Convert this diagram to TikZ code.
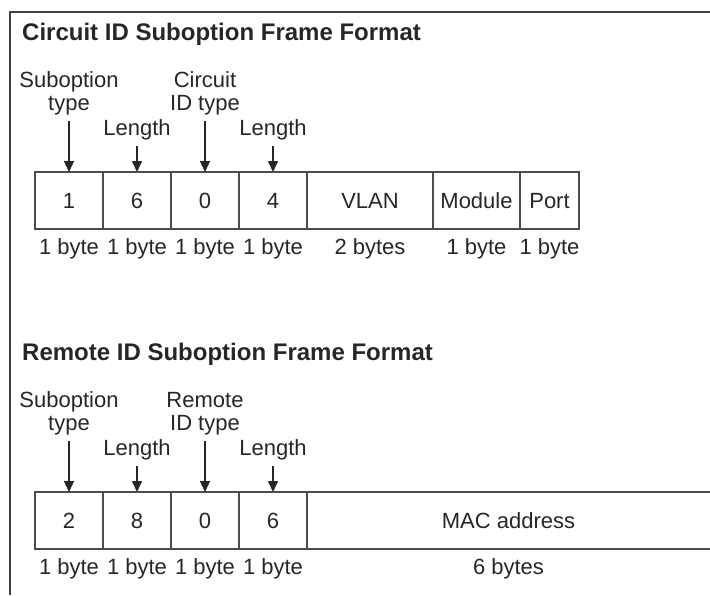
\documentclass[tikz,border=0pt]{standalone}
\usepackage{fontspec}
\setmainfont{Liberation Sans}
\usetikzlibrary{positioning,arrows.meta}

\tikzset{
  field/.style={draw=black!70, line width=1.2pt, outer sep=0pt, inner sep=0pt,
    minimum height=57pt, text height=16pt, text depth=0pt,
    font=\fontsize{22}{23}\selectfont, text=black!85},
  edge/.style={draw=black!70, line width=1.2pt},
  size/.style={inner sep=0pt, text height=16pt, text depth=5pt,
    font=\fontsize{22}{23}\selectfont, text=black!85},
  lbl/.style={inner sep=0pt, align=center, font=\fontsize{22}{23}\selectfont, text=black!85},
  ptr/.style={-{Triangle[length=11pt,width=10pt]}, line width=1.4pt, black!85, shorten <=5.5pt},
  heading/.style={inner sep=0pt, anchor=base west,
    font=\fontsize{24}{28}\selectfont\bfseries, text=black!85},
}

\begin{document}
\begin{tikzpicture}[x=1pt,y=-1pt]
                        \useasboundingbox (0,0) rectangle (710,595);
                        % Frame
                        \draw[line width=2pt, black!75] (10,595) -- (10,12) -- (710,12);
                        % Circuit ID frame (top)
                        \node[heading] (cidtitle) at (22,40) {Circuit ID Suboption Frame Format};
                        \node[field, minimum width=68pt, anchor=north west] (cid1) at (35,172) {1};
                        \node[field, minimum width=68pt, right=0pt of cid1] (cid2) {6};
                        \node[field, minimum width=68pt, right=0pt of cid2] (cid3) {0};
                        \node[field, minimum width=68pt, right=0pt of cid3] (cid4) {4};
                        \node[field, minimum width=126pt, right=0pt of cid4] (cid5) {VLAN};
                        \node[field, minimum width=87pt, right=0pt of cid5] (cid6) {Module};
                        \node[field, minimum width=59pt, right=0pt of cid6] (cid7) {Port};
                        \node[lbl, above=57pt of cid1] (cidtype) {Suboption\\type};
                        \node[lbl, above=32pt of cid2] (cidlen) {Length};
                        \node[lbl, above=57pt of cid3] (cidid) {Circuit\\ID type};
                        \node[lbl, above=32pt of cid4] (cidlen2) {Length};
                        \draw[ptr] (cidtype) -- (cid1);
                        \draw[ptr] (cidlen) -- (cid2);
                        \draw[ptr] (cidid) -- (cid3);
                        \draw[ptr] (cidlen2) -- (cid4);
                        \node[size, below=9pt of cid1] (cidsz1) {1 byte};
                        \node[size, below=9pt of cid2] (cidsz2) {1 byte};
                        \node[size, below=9pt of cid3] (cidsz3) {1 byte};
                        \node[size, below=9pt of cid4] (cidsz4) {1 byte};
                        \node[size, below=9pt of cid5] (cidsz5) {2 bytes};
                        \node[size, below=9pt of cid6] (cidsz6) {1 byte};
                        \node[size, below=9pt of cid7] (cidsz7) {1 byte};
                        % Remote ID frame (bottom)
                        \node[heading] (ridtitle) at (22,360) {Remote ID Suboption Frame Format};
                        \node[field, minimum width=68pt, anchor=north west] (rid1) at (35,492) {2};
                        \node[field, minimum width=68pt, right=0pt of rid1] (rid2) {8};
                        \node[field, minimum width=68pt, right=0pt of rid2] (rid3) {0};
                        \node[field, minimum width=68pt, right=0pt of rid3] (rid4) {6};
                        \node[field, draw=none, minimum width=403pt, right=0pt of rid4] (rid5) {MAC address};
                        \draw[edge] (rid5.north west) -- (rid5.north east)
                                    (rid5.south west) -- (rid5.south east);
                        \node[lbl, above=57pt of rid1] (ridtype) {Suboption\\type};
                        \node[lbl, above=32pt of rid2] (ridlen) {Length};
                        \node[lbl, above=57pt of rid3] (ridid) {Remote\\ID type};
                        \node[lbl, above=32pt of rid4] (ridlen2) {Length};
                        \draw[ptr] (ridtype) -- (rid1);
                        \draw[ptr] (ridlen) -- (rid2);
                        \draw[ptr] (ridid) -- (rid3);
                        \draw[ptr] (ridlen2) -- (rid4);
                        \node[size, below=9pt of rid1] (ridsz1) {1 byte};
                        \node[size, below=9pt of rid2] (ridsz2) {1 byte};
                        \node[size, below=9pt of rid3] (ridsz3) {1 byte};
                        \node[size, below=9pt of rid4] (ridsz4) {1 byte};
                        \node[size, below=9pt of rid5] (ridsz5) {6 bytes};
        \end{tikzpicture}
\end{document}
